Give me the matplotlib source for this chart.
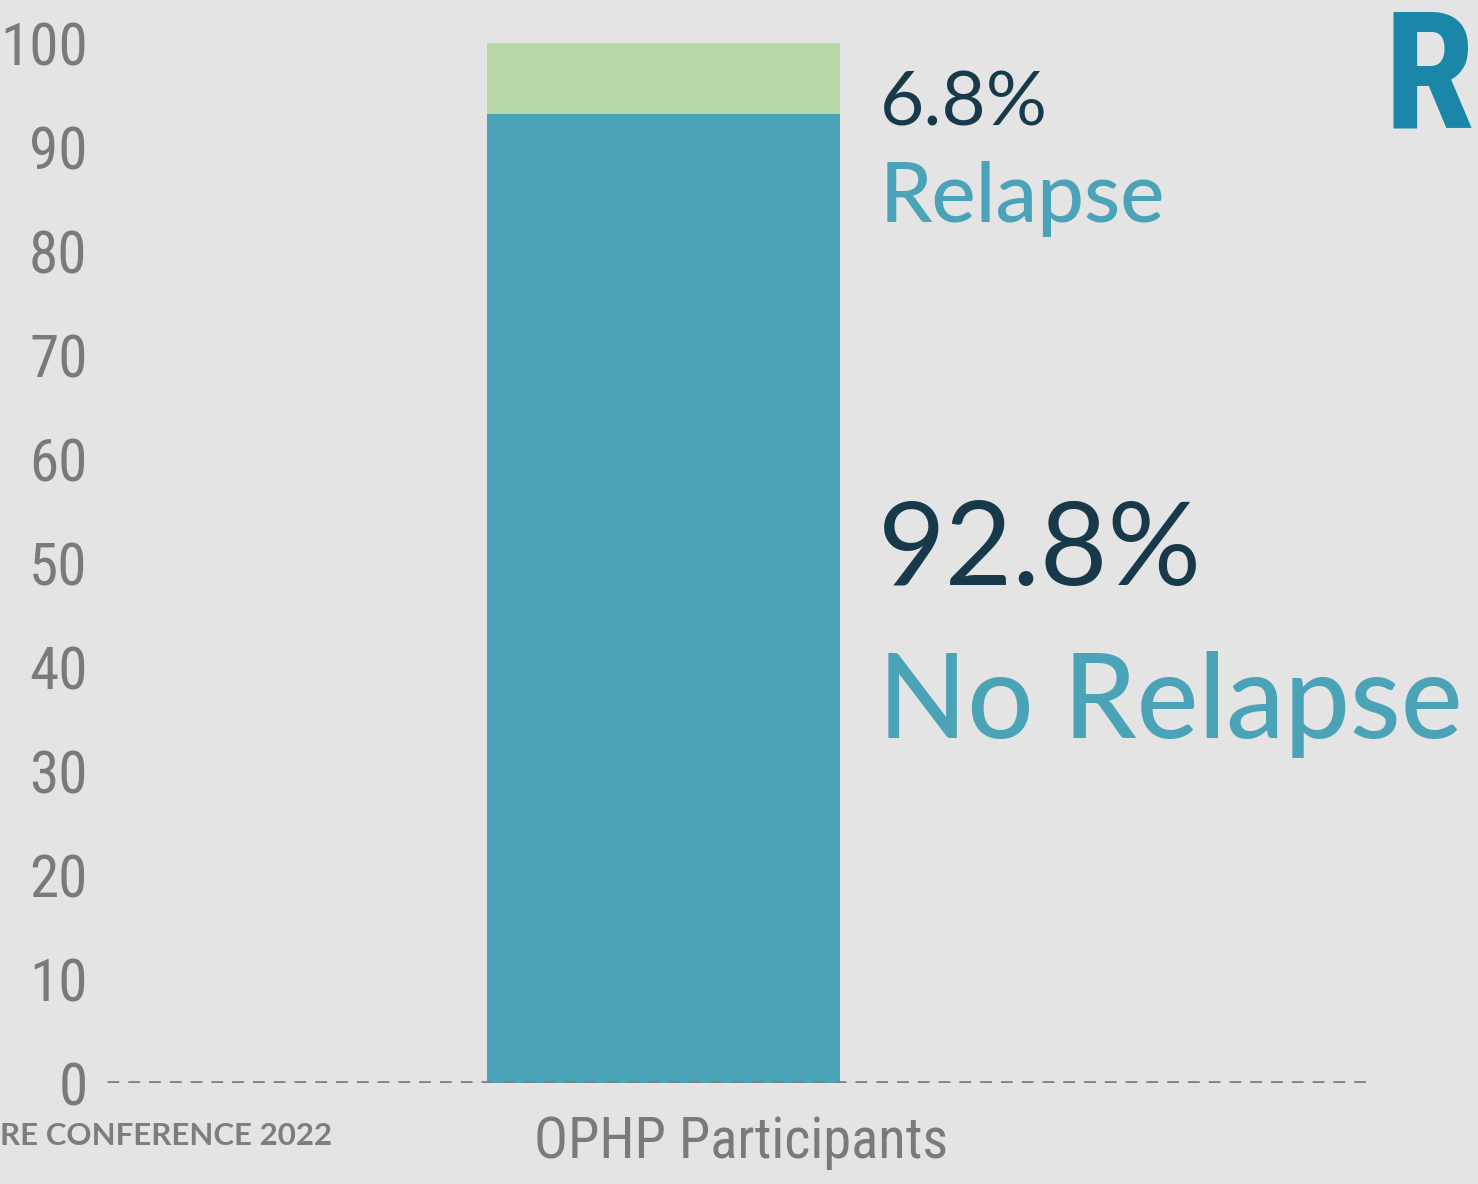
import numpy as np
import matplotlib.pyplot as plt
from matplotlib import font_manager as fm

# data
categories = ['OPHP Participants']
no_relapse = np.array([93.2])
relapse = np.array([6.8])
yticks = [0, 10, 20, 30, 40, 50, 60, 70, 80, 90, 100]

bg = '#e3e4e3'
teal = '#4ba3b8'
green = '#b5d8a6'
navy = '#17394a'
grey = '#7a7a7a'


def pick(cands):
    # first installed family out of the candidates
    for c in cands:
        try:
            fm.findfont(fm.FontProperties(family=c), fallback_to_default=False)
            return c, True
        except ValueError:
            pass
    return 'Liberation Sans', False


narrow, is_narrow = pick(['Liberation Sans Narrow', 'Roboto Condensed',
                          'DejaVu Sans Condensed', 'Open Sans Condensed'])
k = 1.2 if is_narrow else 1.0
nfam = [narrow, 'DejaVu Sans']
sans = ['Lato', 'DejaVu Sans']

fig = plt.figure(figsize=(14.78, 11.84), dpi=100, facecolor=bg)
ax = fig.add_axes([0.0724, 0.0853, 0.858, 0.8784], facecolor=bg)

x = np.arange(len(categories))
ax.bar(x, no_relapse, width=0.8, color=teal, zorder=2)
ax.bar(x, relapse, width=0.8, bottom=no_relapse, color=green, zorder=2)

# dashed baseline
ax.axhline(0, color='#808080', lw=3.4, linestyle=(0, (2.5, 1.9)), zorder=3)

ax.set_xlim(-1.262, 1.613)
ax.set_ylim(0, 100)
ax.set_yticks(yticks)
ax.set_yticklabels([str(t) for t in yticks], family=nfam, fontsize=35.5 * k, color=grey)
ax.set_xticks([])
ax.tick_params(axis='y', length=0, pad=14)
for s in ax.spines.values():
    s.set_visible(False)

# category label
ax.text(0.175, -3.1, categories[0], ha='center', va='top', family=nfam,
        fontsize=34 * k, color=grey)

# annotations
fig.text(880 / 1478, 1 - 125 / 1184, '6.8%', fontsize=55, color=navy,
         family=sans, va='baseline')
fig.text(880 / 1478, 1 - 222 / 1184, 'Relapse', fontsize=60, color=teal,
         family=sans, fontweight='medium', va='baseline')
fig.text(878 / 1478, 1 - 585 / 1184, '92.8%', fontsize=84, color=navy,
         family=sans, va='baseline')
fig.text(878 / 1478, 1 - 738 / 1184, 'No Relapse', fontsize=84, color=teal,
         family=sans, fontweight='medium', va='baseline')

# footer and heading letter at the top right
fig.text(0, 1 - 1145 / 1184, 'RE CONFERENCE 2022', fontsize=22.5, color='#7d7d7d',
         family=sans, fontweight='bold', va='baseline')
fig.text(1474 / 1478, 1 - 128 / 1184, 'R', fontsize=118, color='#1a86a8',
         family=nfam, fontweight='bold', va='baseline', ha='right')

fig.savefig('out.png', dpi=100, facecolor=bg)
